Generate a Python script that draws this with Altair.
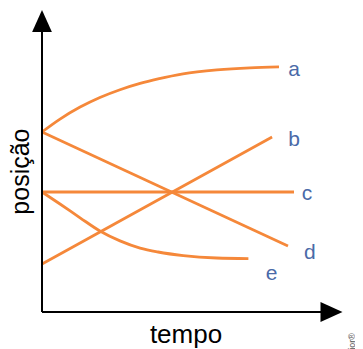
import altair as alt
import pandas as pd

ORANGE = "#f5883a"
BLUE = "#4a6aa8"

# curve data (tempo, posição)
t_a = [0, 0.6, 1.27, 1.93, 2.6, 3.27, 3.87, 4.7, 5.83, 6.93, 7.9]
pos_a = [6.0, 6.43, 6.83, 7.15, 7.41, 7.62, 7.77, 7.94, 8.07, 8.14, 8.17]
t_b = [0, 7.67]
pos_b = [1.6, 5.83]
t_c = [0, 8.4]
pos_c = [4.0, 4.0]
t_d = [0, 8.2]
pos_d = [6.0, 2.2]
t_e = [0, 0.6, 1.27, 1.93, 2.6, 3.27, 3.87, 4.71, 5.82, 6.88]
pos_e = [4.0, 3.6, 3.14, 2.7, 2.37, 2.13, 2.0, 1.88, 1.8, 1.78]

# curve labels
label_names = ["a", "b", "c", "d", "e"]
label_t = [8.21, 8.21, 8.66, 8.73, 7.46]
label_pos = [7.87, 5.55, 3.73, 1.77, 1.07]

# axes (with arrow heads)
axis_t = [0, 0]
axis_t2 = [0, 9.4]
axis_pos = [0, 0]
axis_pos2 = [9.4, 0]
arrow_t = [0, 9.65]
arrow_pos = [9.7, 0]
arrow_shape = ["M0,-1L-0.9,1L0.9,1Z", "M1,0L-1,-0.9L-1,0.9Z"]

# titles
x_title = "tempo"
y_title = "posição"
credit = "jor®"

rows = []
for name, ts, ps in [("a", t_a, pos_a), ("b", t_b, pos_b), ("c", t_c, pos_c),
                     ("d", t_d, pos_d), ("e", t_e, pos_e)]:
    for i, (t, p) in enumerate(zip(ts, ps)):
        rows.append({"series": name, "i": i, "t": t, "pos": p})
curves_df = pd.DataFrame(rows)

xs = alt.Scale(domain=[0, 10], nice=False, zero=False)
ys = alt.Scale(domain=[0, 10], nice=False, zero=False)

curves = alt.Chart(curves_df).mark_line(
    color=ORANGE, strokeWidth=2.8, interpolate="monotone"
).encode(
    x=alt.X("t:Q", scale=xs, axis=None),
    y=alt.Y("pos:Q", scale=ys, axis=None),
    detail="series:N",
    order="i:Q",
)

axes_df = pd.DataFrame({"t": axis_t, "t2": axis_t2, "pos": axis_pos, "pos2": axis_pos2})
axes = alt.Chart(axes_df).mark_rule(color="black", strokeWidth=2).encode(
    x=alt.X("t:Q", scale=xs, axis=None),
    x2="t2:Q",
    y=alt.Y("pos:Q", scale=ys, axis=None),
    y2="pos2:Q",
)

arrows_df = pd.DataFrame({"t": arrow_t, "pos": arrow_pos, "shape": arrow_shape})
arrows = alt.Chart(arrows_df).mark_point(
    filled=True, color="black", size=484, opacity=1, strokeWidth=0
).encode(
    x=alt.X("t:Q", scale=xs, axis=None),
    y=alt.Y("pos:Q", scale=ys, axis=None),
    shape=alt.Shape("shape:N", scale=None, legend=None),
)

labels_df = pd.DataFrame({"name": label_names, "t": label_t, "pos": label_pos})
labels = alt.Chart(labels_df).mark_text(
    color=BLUE, fontSize=21, font="Liberation Sans", align="left", baseline="alphabetic"
).encode(
    x=alt.X("t:Q", scale=xs, axis=None),
    y=alt.Y("pos:Q", scale=ys, axis=None),
    text="name:N",
)

xt = alt.Chart(pd.DataFrame({"t": [4.8], "pos": [-1.03], "txt": [x_title]})).mark_text(
    color="black", fontSize=26, font="Liberation Sans", align="center", baseline="alphabetic"
).encode(
    x=alt.X("t:Q", scale=xs, axis=None),
    y=alt.Y("pos:Q", scale=ys, axis=None),
    text="txt:N",
)

yt = alt.Chart(pd.DataFrame({"t": [-0.43], "pos": [4.68], "txt": [y_title]})).mark_text(
    color="black", fontSize=25, font="Liberation Sans", align="center", baseline="alphabetic",
    angle=270,
).encode(
    x=alt.X("t:Q", scale=xs, axis=None),
    y=alt.Y("pos:Q", scale=ys, axis=None),
    text="txt:N",
)

cr = alt.Chart(pd.DataFrame({"t": [10.33], "pos": [-0.7], "txt": [credit]})).mark_text(
    color="#555555", fontSize=9, font="Liberation Sans", align="right", baseline="middle",
    angle=270,
).encode(
    x=alt.X("t:Q", scale=xs, axis=None),
    y=alt.Y("pos:Q", scale=ys, axis=None),
    text="txt:N",
)

chart = alt.layer(curves, axes, arrows, labels, xt, yt, cr).properties(
    width=300,
    height=300,
    autosize=alt.AutoSizeParams(type="none"),
    padding={"left": 34, "top": 4, "right": 13, "bottom": 37},
).configure_view(stroke=None)

chart.save("out.html", embed_options={"renderer": "svg", "actions": False})
